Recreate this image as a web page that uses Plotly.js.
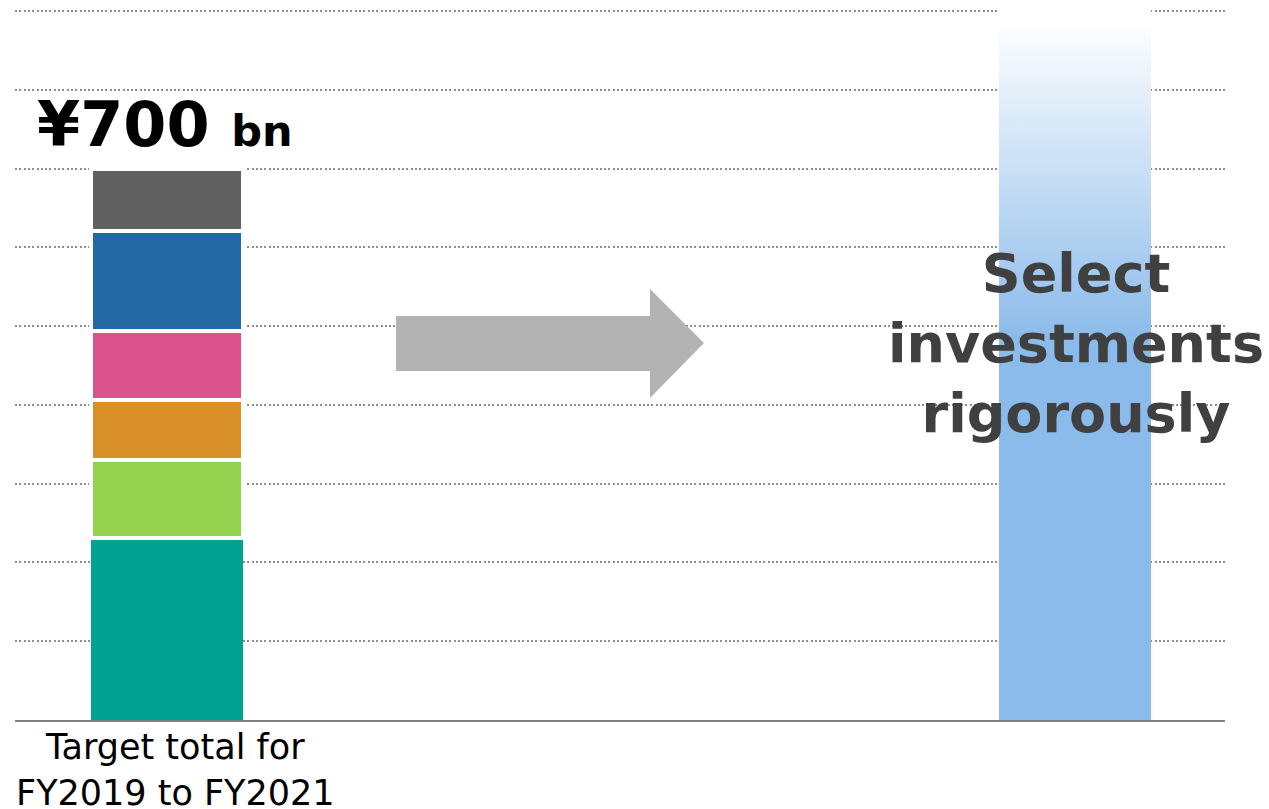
<!DOCTYPE html>
<html>
<head>
<meta charset="utf-8">
<script src="https://cdn.plot.ly/plotly-3.0.1.min.js"></script>
<style>
  html, body { margin: 0; padding: 0; background: #fff; }
  #chart { width: 1269px; height: 809px; }
</style>
</head>
<body>
<div id="chart"></div>
<script>
// ---- data ----
const categories = ['Target total for<br>FY2019 to FY2021', 'Select investments rigorously'];
const segmentNames = ['Segment 1', 'Segment 2', 'Segment 3', 'Segment 4', 'Segment 5', 'Segment 6'];
const segmentValues = [231, 99, 76, 88, 127, 79];   // ¥ bn, bottom to top (total 700)
const segmentColors = ['#00A391', '#94D250', '#DA9028', '#DB528C', '#2268A5', '#616161'];
const selectValue = [910];
const totalLabel = '¥700';
const totalUnit = 'bn';
const selectText = 'Select<br>investments<br>rigorously';

const BAR_W = 0.1674;
const traces = [];
segmentValues.forEach((v, i) => {
  traces.push({
    type: 'bar',
    name: segmentNames[i],
    x: [categories[0]],
    y: [v],
    width: BAR_W,
    marker: {
      color: segmentColors[i],
      line: { color: '#ffffff', width: i === 0 ? 0 : 4 }
    },
    hoverinfo: 'none'
  });
});
traces.push({
  type: 'bar',
  name: 'Select',
  x: [categories[1]],
  y: selectValue,
  width: BAR_W,
  marker: { color: '#8BBBEA', line: { width: 0 } },
  hoverinfo: 'none'
});

const layout = {
  width: 1269,
  height: 809,
  margin: { l: 15, r: 44, t: 0, b: 89, pad: 0 },
  paper_bgcolor: '#ffffff',
  plot_bgcolor: '#ffffff',
  barmode: 'stack',
  showlegend: false,
  font: { family: 'DejaVu Sans, Verdana, sans-serif', color: '#000' },
  xaxis: {
    type: 'category',
    range: [-0.1674, 1.1652],
    showticklabels: false,
    ticks: '',
    showgrid: false,
    zeroline: false,
    showline: true,
    linecolor: '#7f7f7f',
    linewidth: 1.5,
    fixedrange: true
  },
  yaxis: {
    range: [0, 914],
    tick0: 0,
    dtick: 100,
    showticklabels: false,
    ticks: '',
    showgrid: true,
    gridcolor: '#8f8f8f',
    gridwidth: 2,
    griddash: '2px,2.3px',
    zeroline: false,
    showline: false,
    fixedrange: true
  },
  shapes: [{
    type: 'path',
    xref: 'paper', yref: 'paper',
    path: 'M 0.3149 0.5611 L 0.5248 0.5611 L 0.5248 0.5986 L 0.5694 0.5236 L 0.5248 0.4472 L 0.5248 0.4847 L 0.3149 0.4847 Z',
    fillcolor: '#B3B3B3',
    line: { width: 0 },
    layer: 'above'
  }],
  annotations: [
    {
      x: categories[0], xref: 'x', y: 0, yref: 'paper',
      xanchor: 'center', yanchor: 'top', xshift: 8, yshift: -5,
      text: categories[0],
      showarrow: false,
      font: { family: 'DejaVu Sans', size: 35, color: '#000' }
    },
    {
      x: categories[0], xref: 'x', y: 700, yref: 'y',
      xanchor: 'center', yanchor: 'bottom', xshift: -2, yshift: 6,
      text: '<b>' + totalLabel + ' <span style="font-size:43px">' + totalUnit + '</span></b>',
      showarrow: false,
      font: { family: 'DejaVu Sans', size: 62, color: '#000' }
    },
    {
      x: categories[1], xref: 'x', y: 478, yref: 'y',
      xanchor: 'center', yanchor: 'middle', xshift: 1,
      text: '<b>' + selectText + '</b>',
      showarrow: false,
      font: { family: 'DejaVu Sans', size: 54, color: '#404040' }
    }
  ]
};

const gd = document.getElementById('chart');
Plotly.newPlot(gd, traces, layout, { staticPlot: true, displayModeBar: false }).then(() => {
  const svg = gd.querySelector('svg.main-svg');
  const ns = 'http://www.w3.org/2000/svg';
  let defs = svg.querySelector('defs');
  if (!defs) { defs = document.createElementNS(ns, 'defs'); svg.insertBefore(defs, svg.firstChild); }
  const grad = document.createElementNS(ns, 'linearGradient');
  grad.setAttribute('id', 'selectGrad');
  grad.setAttribute('x1', '0'); grad.setAttribute('y1', '0');
  grad.setAttribute('x2', '0'); grad.setAttribute('y2', '1');
  [['0', '#ffffff'], ['0.024', '#ffffff'], ['0.47', '#8BBBEA'], ['1', '#8BBBEA']].forEach(([o, c]) => {
    const s = document.createElementNS(ns, 'stop');
    s.setAttribute('offset', o);
    s.setAttribute('stop-color', c);
    grad.appendChild(s);
  });
  defs.appendChild(grad);
  const barTraces = gd.querySelectorAll('.barlayer .trace');
  const last = barTraces[barTraces.length - 1];
  last.querySelectorAll('path').forEach(p => { p.style.fill = 'url(#selectGrad)'; });
});
</script>
</body>
</html>
